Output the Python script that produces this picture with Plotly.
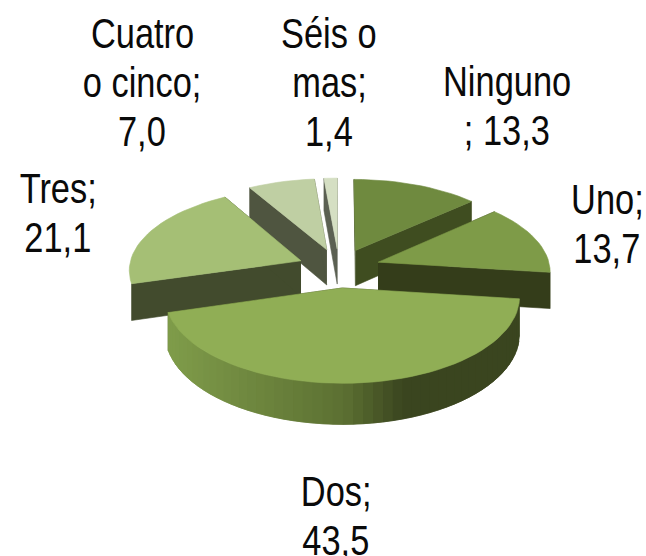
import numpy as np
import plotly.graph_objects as go

categories = ["Ninguno", "Uno", "Dos", "Tres", "Cuatro o cinco", "Séis o mas"]
values = [13.3, 13.7, 43.5, 21.1, 7.0, 1.4]

# text: one entry per wrapped line of each label
label_lines = [["Ninguno", "; 13,3"], ["Uno;", "13,7"], ["Dos;", "43,5"],
               ["Tres;", "21,1"], ["Cuatro", "o cinco;", "7,0"], ["Séis o", "mas;", "1,4"]]
label_pos = [(507, 81), (607, 199), (336, 491), (58, 188), (142, 33), (329, 33)]

top_colors = ["#6f8a3f", "#7e9b48", "#90ae55", "#a5bf75", "#bfcfa3", "#d5dfc3"]
wall_colors = ["#3f4d20", "#343d1a", "#3c4720", "#424b2d", "#4f5540", "#5b6052"]
rim_left, rim_mid, rim_right = (127, 156, 74), (92, 112, 50), (58, 69, 31)

# projection of the tilted pie
CX, CY, RX, RY, K, PULL, DEPTH = 339, 268, 172, 81.5, 0.10, 0.24, 36
draw_order = [5, 4, 0, 3, 1, 2]


def project(th, mid, radius=1.0):
    X = radius * np.sin(th) + PULL * np.sin(mid)
    Y = radius * np.cos(th) + PULL * np.cos(mid)
    den = 1 + K * Y
    return CX + RX * X / den, CY - RY * Y / den, DEPTH / den


def blend(a, b, t):
    return "rgb(%d,%d,%d)" % tuple(round(a[i] + (b[i] - a[i]) * t) for i in range(3))


def poly(xs, ys, color):
    return go.Scatter(x=list(xs), y=list(ys), mode="lines", fill="toself", fillcolor=color,
                      line=dict(color=color, width=0.6), hoverinfo="skip", showlegend=False)


edges = np.concatenate([[0], np.cumsum(values)]) / sum(values) * 2 * np.pi
fig = go.Figure()

for i in draw_order:
    a0, a1 = edges[i], edges[i + 1]
    mid = (a0 + a1) / 2
    th = np.linspace(a0, a1, max(6, int((a1 - a0) * 20)))
    ax, ay, ad = project(mid, mid, 0.0)
    rx, ry, rd = project(th, mid)
    # radial walls
    for e in (a0, a1):
        ex, ey, ed = project(e, mid)
        fig.add_trace(poly([ax, ex, ex, ax], [ay, ey, ey + ed, ay + ad], wall_colors[i]))
    # rim of the large front slice, shaded from left to right
    if categories[i] == "Dos":
        n = len(th)
        xmin, xmax = rx.min(), rx.max()
        for j in range(n - 1):
            t = (0.5 * (rx[j] + rx[j + 1]) - xmin) / (xmax - xmin)
            c = blend(rim_left, rim_mid, t / 0.5) if t < 0.5 else blend(rim_mid, rim_right, min(1, (t - 0.5) / 0.17))
            k = min(j + 2, n - 1)
            fig.add_trace(poly(np.r_[rx[j:k + 1], rx[j:k + 1][::-1]],
                               np.r_[ry[j:k + 1], (ry + rd)[j:k + 1][::-1]], c))
    # top face
    fig.add_trace(poly(np.r_[ax, rx, ax], np.r_[ay, ry, ay], top_colors[i]))

LINE_STEP = 49
annotations = []
for lines, (lx, ly) in zip(label_lines, label_pos):
    for n, line in enumerate(lines):
        annotations.append(dict(x=lx, y=ly + n * LINE_STEP, text=line, showarrow=False, xref="x", yref="y",
                                xanchor="center", yanchor="middle",
                                font=dict(family="Liberation Sans", size=43, color="#0a0a0a")))

fig.update_layout(width=646, height=556, margin=dict(l=0, r=0, t=0, b=0),
                  paper_bgcolor="white", plot_bgcolor="white", showlegend=False,
                  xaxis=dict(range=[0, 646], visible=False, fixedrange=True),
                  yaxis=dict(range=[556, 0], visible=False, fixedrange=True),
                  annotations=annotations)

# the labels of the reference are horizontally condensed
squeeze = """
document.body.style.margin='0';document.body.style.overflow='hidden';
document.querySelectorAll('.annotation-text').forEach(function(t){
  var b=t.getBBox(), c=b.x+b.width/2, s=0.8;
  t.setAttribute('transform','translate('+(c*(1-s))+',0) scale('+s+',1)');
});
"""
fig.write_html("out.html", config=dict(displayModeBar=False), post_script=squeeze)
